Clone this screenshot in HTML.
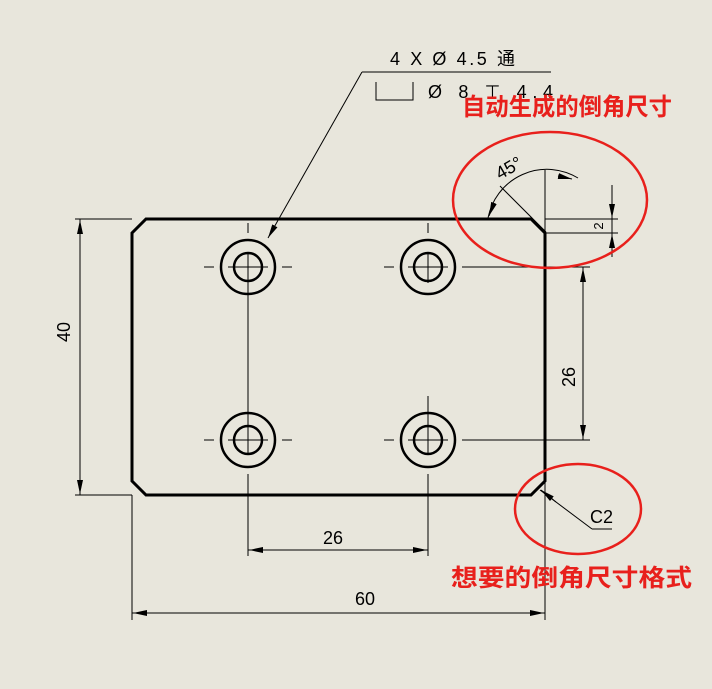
<!DOCTYPE html>
<html><head><meta charset="utf-8"><style>
body{margin:0;background:#e8e6dc;}
svg{display:block}
.t{font-family:"Liberation Sans",sans-serif;font-size:18px;fill:#000}
.r{font-family:"Liberation Sans","Noto Sans CJK SC",sans-serif;font-size:24px;font-weight:bold;fill:#e8201c}
</style></head><body>
<svg width="712" height="689" viewBox="0 0 712 689" xmlns="http://www.w3.org/2000/svg">
<rect width="712" height="689" fill="#e8e6dc"/>
<defs><marker id="a" markerWidth="14" markerHeight="6" refX="14" refY="3" orient="auto" markerUnits="userSpaceOnUse"><path d="M0,0 L14,3 L0,6Z" fill="#000"/></marker></defs>
<g stroke="#000" fill="none">
<path d="M146,219 L531,219 L545,233 L545,481 L531,495 L146,495 L132,481 L132,233 Z" stroke-width="3"/>
<g stroke-width="2.5">
<circle cx="248" cy="267" r="27"/><circle cx="248" cy="267" r="14"/>
<circle cx="428" cy="267" r="27"/><circle cx="428" cy="267" r="14"/>
<circle cx="248" cy="440" r="27"/><circle cx="248" cy="440" r="14"/>
<circle cx="428" cy="440" r="27"/><circle cx="428" cy="440" r="14"/>
</g>
<g stroke-width="1">
<path d="M204,267h10M228,267h40M282,267h10M248,223v10M248,253v200M248,474v82"/>
<path d="M384,267h10M408,267h40M462,267h10M428,223v10M428,253v30M428,396v58M428,474v82"/>
<path d="M204,440h10M228,440h40M282,440h10M384,440h10M408,440h40M462,440h10M428,410v10"/>
<path d="M75,219h57M75,495h57"/>
<line x1="80" y1="219" x2="80" y2="495"/>
<line x1="80" y1="234" x2="80" y2="220" marker-end="url(#a)"/>
<line x1="80" y1="480" x2="80" y2="494" marker-end="url(#a)"/>
<path d="M462,267h128M462,440h128"/>
<line x1="583" y1="267" x2="583" y2="440"/>
<line x1="583" y1="282" x2="583" y2="268" marker-end="url(#a)"/>
<line x1="583" y1="425" x2="583" y2="439" marker-end="url(#a)"/>
<line x1="248" y1="550" x2="428" y2="550"/>
<line x1="263" y1="550" x2="249" y2="550" marker-end="url(#a)"/>
<line x1="413" y1="550" x2="427" y2="550" marker-end="url(#a)"/>
<path d="M132,495V620M545,268V620"/>
<line x1="132" y1="613" x2="545" y2="613"/>
<line x1="147" y1="613" x2="133" y2="613" marker-end="url(#a)"/>
<line x1="530" y1="613" x2="544" y2="613" marker-end="url(#a)"/>
<path d="M545,219H618M545,233H618M612,185V257"/>
<line x1="612" y1="196" x2="612" y2="218" marker-end="url(#a)"/>
<line x1="612" y1="256" x2="612" y2="234" marker-end="url(#a)"/>
<path d="M545,170V233"/><path d="M546,232L500,186"/>
<path d="M488,218 A60,60 0 0 1 578,178"/>
<line x1="494" y1="203" x2="489" y2="216" marker-end="url(#a)"/>
<line x1="558" y1="176" x2="572" y2="179" marker-end="url(#a)"/>
<line x1="362" y1="72" x2="551" y2="72"/>
<line x1="362" y1="72" x2="268" y2="238" marker-end="url(#a)"/>
<path d="M376,82V100H413V82"/>
<line x1="540" y1="490" x2="592" y2="529"/><line x1="592" y1="529" x2="612" y2="529"/>
<line x1="556" y1="502" x2="541" y2="490" marker-end="url(#a)"/>
</g>
<g stroke="#e8201c" stroke-width="2.5"><ellipse cx="550" cy="200" rx="97" ry="68"/><ellipse cx="578" cy="509" rx="63" ry="45"/></g>
</g>
<text class="t" x="390" y="65" textLength="125">4 X Ø 4.5 通</text>
<text class="t" x="428" y="98" textLength="125">Ø 8 ⊤ 4.4</text>
<text class="t" transform="translate(70,332) rotate(-90)" text-anchor="middle">40</text>
<text class="t" transform="translate(575,377) rotate(-90)" text-anchor="middle">26</text>
<text class="t" style="font-size:13px" transform="translate(603,226) rotate(-90)" text-anchor="middle">2</text>
<text class="t" x="333" y="544" text-anchor="middle">26</text>
<text class="t" x="365" y="605" text-anchor="middle">60</text>
<text class="t" x="590" y="523">C2</text>
<text class="t" transform="translate(500,180) rotate(-30)">45°</text>
<text class="r" x="462" y="115" textLength="210" lengthAdjust="spacingAndGlyphs">自动生成的倒角尺寸</text>
<text class="r" x="451" y="586" textLength="241" lengthAdjust="spacingAndGlyphs">想要的倒角尺寸格式</text>
</svg>
</body></html>
